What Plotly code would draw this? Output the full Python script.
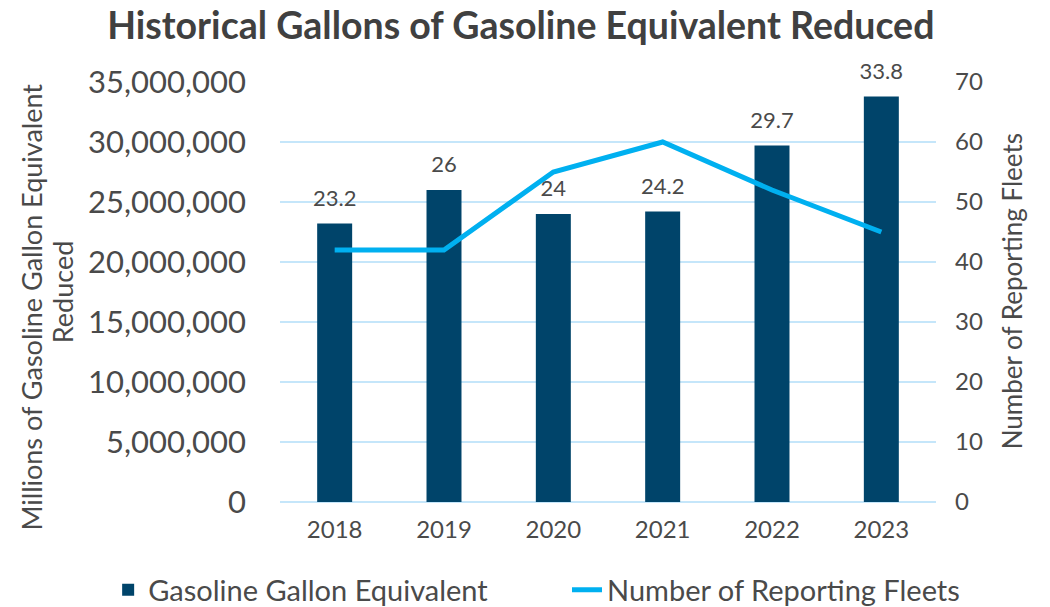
import plotly.graph_objects as go

years = ["2018", "2019", "2020", "2021", "2022", "2023"]
gge_millions = [23.2, 26, 24, 24.2, 29.7, 33.8]
fleets = [42, 42, 55, 60, 52, 45]
labels = ["23.2", "26", "24", "24.2", "29.7", "33.8"]

gge = [v * 1e6 for v in gge_millions]

TXT = "#4a4a4a"
FONT = "Lato"

fig = go.Figure()
fig.add_trace(go.Bar(
    x=years, y=gge, name="Gasoline Gallon Equivalent",
    marker=dict(color="#00446a", line=dict(width=0)), legend="legend",
))
fig.add_trace(go.Scatter(
    x=years, y=fleets, name="Number of Reporting Fleets", yaxis="y2",
    mode="lines", line=dict(color="#00b0f0", width=5), legend="legend2",
))
# data labels above bars
fig.add_trace(go.Scatter(
    x=years, y=gge, text=labels, mode="markers+text", textposition="top center",
    marker=dict(size=18, color="rgba(0,0,0,0)"), showlegend=False, hoverinfo="skip",
    cliponaxis=False, textfont=dict(family=FONT, size=22, color=TXT),
))

# axis titles
fig.add_annotation(xref="paper", yref="paper", x=-0.378, y=0.463,
                   text="Millions of Gasoline Gallon Equivalent",
                   textangle=-90, showarrow=False, xanchor="center", yanchor="middle",
                   font=dict(family=FONT, size=27, color=TXT))
fig.add_annotation(xref="paper", yref="paper", x=-0.332, y=0.5,
                   text="Reduced",
                   textangle=-90, showarrow=False, xanchor="center", yanchor="middle",
                   font=dict(family=FONT, size=27, color=TXT))
fig.add_annotation(xref="paper", yref="paper", x=1.116, y=0.502,
                   text="Number of Reporting Fleets",
                   textangle=-90, showarrow=False, xanchor="center", yanchor="middle",
                   font=dict(family=FONT, size=26, color=TXT))

legend_common = dict(orientation="h", xref="container", yref="container",
                     xanchor="left", y=0.028, yanchor="middle",
                     font=dict(family=FONT, size=29, color=TXT), itemwidth=30,
                     bgcolor="rgba(0,0,0,0)")

fig.update_layout(
    width=1050, height=607,
    margin=dict(l=280, r=114, t=82, b=105),
    paper_bgcolor="white", plot_bgcolor="white",
    font=dict(family=FONT, color=TXT),
    title=dict(text="<b>Historical Gallons of Gasoline Equivalent Reduced</b>",
               x=0.496, xanchor="center", xref="container", y=0.957, yanchor="middle",
               font=dict(family=FONT, size=37.5, color="#404040"), automargin=False),
    bargap=0.68,
    showlegend=True,
    legend=dict(x=0.103, **legend_common),
    legend2=dict(x=0.54, **legend_common),
    xaxis=dict(type="category", tickfont=dict(family=FONT, size=24, color=TXT),
               showline=False, showgrid=False, ticks="", automargin=False,
               ticklabelstandoff=11),
    yaxis=dict(range=[0, 35e6], dtick=5e6, tickformat=",d",
               tickfont=dict(family=FONT, size=31, color=TXT),
               gridcolor="#c5e6fa", gridwidth=1.5, zeroline=True, zerolinecolor="#c5e6fa",
               zerolinewidth=1.5, showline=False, ticks="", automargin=False,
               ticklabelstandoff=33),
    yaxis2=dict(range=[0, 70], dtick=10, overlaying="y", side="right",
                tickfont=dict(family=FONT, size=24, color=TXT),
                showgrid=False, zeroline=False, showline=False, ticks="",
                automargin=False, ticklabelstandoff=18),
)

fig.write_html("out.html", config={"displayModeBar": False},
               post_script="document.body.style.margin='0';document.body.style.padding='0';")
